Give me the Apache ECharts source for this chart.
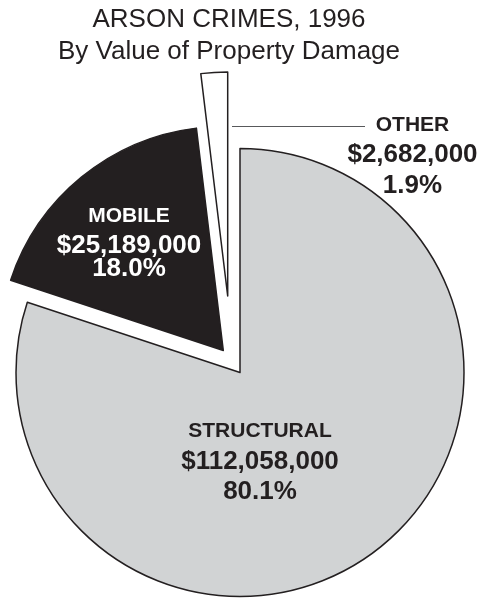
<!DOCTYPE html>
<html><head><meta charset="utf-8">
<script src="https://cdn.jsdelivr.net/npm/echarts@6/dist/echarts.min.js"></script>
<style>html,body{margin:0;padding:0;background:#fff}#chart{width:484px;height:598px}</style>
</head><body><div id="chart"></div>
<script>
// ---- data ----
const titleLines = ['ARSON CRIMES, 1996', 'By Value of Property Damage'];
const categories = ['STRUCTURAL', 'MOBILE', 'OTHER'];
const values = [112058000, 25189000, 2682000];

// ---- layout / style ----
const sliceColors = ['#d1d3d4', '#231f20', '#ffffff'];
const textColors = ['#231f20', '#ffffff', '#231f20'];
const centers = [[240, 372.5], [223.3, 350.5], [227.7, 296]];
const labelPos = [[260, 461.5], [129, 239.7], [412.5, 156.5]];
const lineHeights = [[30, 30, 30], [36, 22, 24], [28, 31, 32]];
const R = 224;
const FONT = '"Liberation Sans", Arial, Helvetica, sans-serif';

function money(v) { return '$' + v.toLocaleString('en-US'); }

const series = categories.map((cat, i) => ({
  type: 'pie',
  silent: true,
  animation: false,
  center: centers[i],
  radius: R,
  startAngle: 90,
  clockwise: true,
  avoidLabelOverlap: false,
  emphasis: { disabled: true },
  labelLine: { show: false },
  data: values.map((v, j) => ({
    name: categories[j],
    value: v,
    itemStyle: j === i
      ? { color: sliceColors[j], borderColor: '#231f20', borderWidth: 1.5 }
      : { color: 'rgba(0,0,0,0)', borderWidth: 0 },
    label: { show: j === i }
  })),
  label: {
    position: 'inside',
    formatter: p => `{a|${p.name}}\n{b|${money(p.value)}}\n{c|${Number(p.percent).toFixed(1)}%}`,
    rich: {
      a: { fontSize: 21, fontWeight: 'bold', fontFamily: FONT, color: textColors[i], lineHeight: lineHeights[i][0], align: 'center' },
      b: { fontSize: 26, fontWeight: 'bold', fontFamily: FONT, color: textColors[i], lineHeight: lineHeights[i][1], align: 'center' },
      c: { fontSize: 26, fontWeight: 'bold', fontFamily: FONT, color: textColors[i], lineHeight: lineHeights[i][2], align: 'center' }
    }
  },
  labelLayout: () => ({ x: labelPos[i][0], y: labelPos[i][1], align: 'center', verticalAlign: 'middle' })
}));

const chart = echarts.init(document.getElementById('chart'), null, { renderer: 'canvas' });
chart.setOption({
  backgroundColor: '#ffffff',
  animation: false,
  series: series,
  graphic: [
    {
      type: 'text', x: 229, y: 4, silent: true,
      style: { text: titleLines.join('\n'), fontSize: 26, fontFamily: FONT, fill: '#231f20', align: 'center', verticalAlign: 'top', lineHeight: 32 }
    },
    {
      type: 'line', silent: true,
      shape: { x1: 232, y1: 126.5, x2: 365, y2: 126.5 },
      style: { stroke: '#58595b', lineWidth: 1 }
    }
  ]
});
</script>
</body></html>
